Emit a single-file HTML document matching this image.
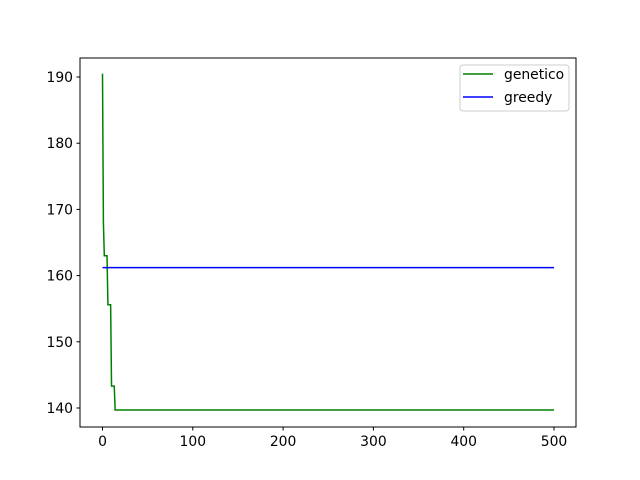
<!DOCTYPE html>
<html><head><meta charset="utf-8"><style>
body{margin:0;background:#fff;}
svg{display:block;font-family:"DejaVu Sans","Liberation Sans",sans-serif;}
</style></head><body>
<svg id="chart" width="640" height="480" viewBox="0 0 640 480">
<rect x="0" y="0" width="640" height="480" fill="#fff"/>
<g id="plot"></g>
<rect x="80" y="58" width="496" height="369" fill="none" stroke="#000" stroke-width="1"/>
<g>
<rect x="460" y="65" width="109" height="46" rx="3" fill="#fff" fill-opacity="0.8" stroke="#ccc"/>
<line x1="463" y1="74" x2="493" y2="74" stroke="green" stroke-width="1.5"/>
<text x="504" y="79" font-size="13.9">genetico</text>
<line x1="463" y1="97" x2="493" y2="97" stroke="blue" stroke-width="1.5"/>
<text x="504" y="102" font-size="13.9">greedy</text>
</g>
</svg>
<script>
const geneticoX=[0,1,2,5,6,9,10,13,14,500];
const geneticoY=[190.5,168,163,163,155.6,155.6,143.3,143.3,139.7,139.7];
const greedyX=[0,500];
const greedyY=[161.2,161.2];
const xTicks=[0,100,200,300,400,500];
const yTicks=[140,150,160,170,180,190];
const NS="http://www.w3.org/2000/svg";
function sx(v){return 102.5+(v-0)*(554-102.5)/500;}
function sy(v){return 408+(v-140)*(77-408)/50;}
const plot=document.getElementById('plot');
function mk(tag,attrs){const e=document.createElementNS(NS,tag);for(const k in attrs)e.setAttribute(k,attrs[k]);return e;}
xTicks.forEach(t=>{
 const l=mk('line',{x1:sx(t),x2:sx(t),y1:427,y2:430.5,stroke:'#000'});
 
 
 plot.appendChild(l);
 const tx=mk('text',{x:sx(t),y:446,'font-size':'13.9','text-anchor':'middle'});
 
 
 tx.textContent=t;plot.appendChild(tx);
});
yTicks.forEach(t=>{
 const l=mk('line',{x1:76.5,x2:80,y1:sy(t),y2:sy(t),stroke:'#000'});
 
 
 plot.appendChild(l);
 const tx=mk('text',{x:73,y:sy(t)+5,'font-size':'13.9','text-anchor':'end'});
 
 
 tx.textContent=t;plot.appendChild(tx);
});
function line(xs,ys,color,name){
 const p=mk('polyline',{points:xs.map((x,i)=>sx(x)+','+sy(ys[i])).join(' '),fill:'none',stroke:color,'stroke-width':'1.5'});
 
 
 plot.appendChild(p);
}
line(geneticoX,geneticoY,'green','genetico-line');
line(greedyX,greedyY,'blue','greedy-line');
</script>
</body></html>
